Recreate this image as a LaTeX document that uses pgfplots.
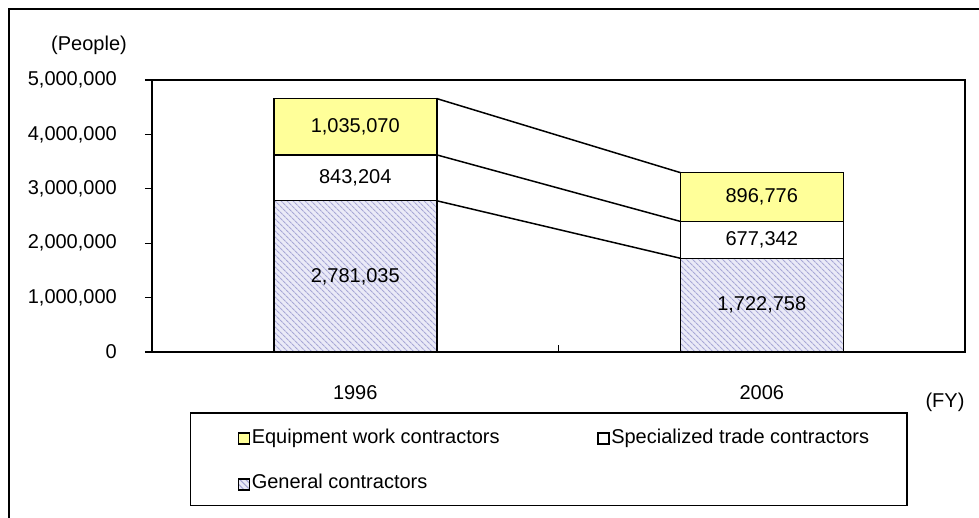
\documentclass[border=0pt]{standalone}
\usepackage{fontspec}
\setmainfont{Liberation Sans}
\usepackage{pgfplots}
\pgfplotsset{compat=1.18}
\usetikzlibrary{patterns.meta}
\definecolor{equip}{RGB}{255,255,153}
\definecolor{genfill}{RGB}{234,234,247}
\definecolor{genline}{RGB}{168,168,214}
\begin{document}
\begin{tikzpicture}[x=1pt,y=1pt,font=\fontsize{20}{24}\selectfont]
\useasboundingbox (0,0) rectangle (979,517);
\draw[line width=1.5pt] (9,-2) -- (9,508) -- (981,508);
\node at (89,472) {(People)};
\node at (945,115) {(FY)};
\pgfplotsset{
  commonax/.style={scale only axis, width=813pt, height=272pt, at={(152pt,165pt)}, anchor=south west,
    xmin=-0.5, xmax=1.5, ymin=0, ymax=5000000},
}
\begin{axis}[commonax, ybar stacked, bar width=163pt,
  axis line style={line width=1.5pt},
  tick style={line width=1.2pt, black},
  ytick={0,1000000,2000000,3000000,4000000,5000000},
  scaled y ticks=false,
  ytick pos=left, xtick pos=bottom,
  tick align=outside, major tick length=7pt,
  yticklabel style={/pgf/number format/fixed, /pgf/number format/1000 sep={,},
    /pgf/number format/assume math mode=true, /tikz/inner xsep=0pt, /tikz/xshift=-28pt},
  xtick={-0.5,0.5,1.5}, x tick label as interval, xticklabels={1996,2006},
  xtick style={yshift=7pt},
  xticklabel style={inner ysep=0pt, yshift=-26pt},
  legend columns=2, reverse legend, legend cell align=left,
  legend image code/.code={\path (0pt,13.5pt); \draw[#1] (0pt,-5.5pt) rectangle (11pt,5.5pt);},
  legend style={at={(0.04674,-0.22059)}, anchor=north west, draw=black, line width=1.5pt,
    inner xsep=47pt, inner ysep=11.5pt, row sep=22pt, column sep=0pt,
    nodes={inner xsep=1.5pt, inner ysep=0pt, text height=14pt, text depth=5pt, anchor=west}},
]
\addplot[draw=black, line width=1.5pt, preaction={fill=genfill},
  pattern={Lines[angle=-45,distance=4pt,line width=1.2pt]}, pattern color=genline]
  coordinates {(0,2781035) (1,1722758)};
\addlegendentry{\makebox[344pt][l]{General contractors}}
\addplot[draw=black, line width=1.5pt, fill=white]
  coordinates {(0,843204) (1,677342)};
\addlegendentry{\makebox[247pt][l]{Specialized trade contractors}}
\addplot[draw=black, line width=1.5pt, fill=equip]
  coordinates {(0,1035070) (1,896776)};
\addlegendentry{\makebox[344pt][l]{Equipment work contractors}}
\end{axis}
\begin{axis}[commonax, hide axis, clip=false]
\addplot[black, line width=1.5pt, mark=none] coordinates {(0.2,2781035) (0.8,1722758)};
\addplot[black, line width=1.5pt, mark=none] coordinates {(0.2,3624239) (0.8,2400100)};
\addplot[black, line width=1.5pt, mark=none] coordinates {(0.2,4659309) (0.8,3296876)};
\addplot[draw=none, mark=none, nodes near coords, point meta=explicit symbolic,
  nodes near coords style={anchor=center, inner sep=0pt}]
  table[meta=lab] {
  x y lab
  0 1390517.5 {2,781,035}
  0 3202637 {843,204}
  0 4141774 {1,035,070}
  1 861379 {1,722,758}
  1 2061429 {677,342}
  1 2848488 {896,776}
};
\end{axis}
\end{tikzpicture}
\end{document}
